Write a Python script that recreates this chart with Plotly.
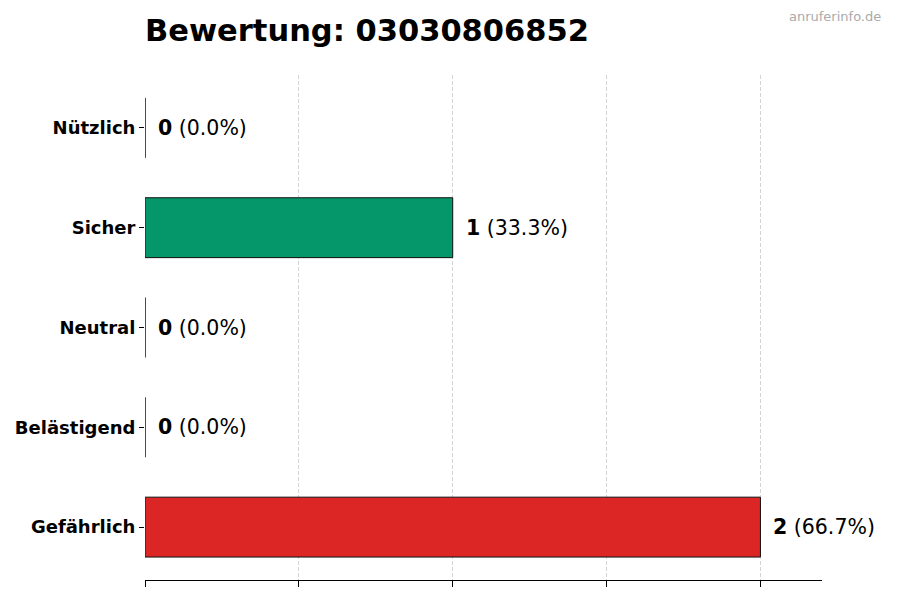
import plotly.graph_objects as go

categories = ["Gefährlich", "Belästigend", "Neutral", "Sicher", "Nützlich"]
counts = [2, 0, 0, 1, 0]
percents = [66.7, 0.0, 0.0, 33.3, 0.0]
colors = ["#dc2626", "#f97316", "#9ca3af", "#059669", "#10b981"]
x_ticks = [0, 0.5, 1, 1.5, 2]
title_text = "Bewertung: 03030806852"
watermark = "anruferinfo.de"

L, R, T, B = 145, 78, 75, 20
W, H = 900, 600

fig = go.Figure()
fig.add_trace(go.Bar(
    x=counts,
    y=list(range(len(categories))),
    orientation="h",
    width=0.6,
    marker=dict(color=colors, line=dict(color="#111111", width=1)),
    hoverinfo="skip",
))

for i, (c, p) in enumerate(zip(counts, percents)):
    fig.add_annotation(
        x=c, y=i, xref="x", yref="y",
        text=f"<b>{c}</b> ({p:.1f}%)",
        showarrow=False, xanchor="left", yanchor="middle", xshift=11,
        font=dict(family="DejaVu Sans", size=20.5, color="#000000"),
    )

fig.add_annotation(
    xref="paper", yref="paper",
    x=(883 - L) / (W - L - R), y=1 + (T - 17) / (H - T - B),
    xanchor="right", yanchor="middle",
    text=watermark, showarrow=False,
    font=dict(family="DejaVu Sans", size=13, color="#aaaaaa"),
)

fig.update_layout(
    width=W, height=H,
    margin=dict(l=L, r=R, t=T, b=B),
    plot_bgcolor="white", paper_bgcolor="white",
    showlegend=False,
    title=dict(text=f"<b>{title_text}</b>", x=L / W, xanchor="left", y=1 - 30 / H, yanchor="middle",
               font=dict(family="DejaVu Sans", size=30.5, color="#000000")),
    xaxis=dict(range=[0, 2.2], tickvals=x_ticks, showticklabels=False,
               showgrid=True, gridcolor="rgba(160,160,160,0.45)", griddash="4px,2px", gridwidth=1,
               showline=True, linecolor="#000000", linewidth=1,
               ticks="outside", ticklen=6, tickcolor="#000000", zeroline=False,
               layer="above traces"),
    yaxis=dict(range=[-0.53, 4.53], tickvals=list(range(len(categories))), ticktext=categories,
               showgrid=False, zeroline=False, showline=False,
               ticks="outside", ticklen=5, tickcolor="#000000",
               tickfont=dict(family="DejaVu Sans", size=18, color="#000000", weight="bold")),
)

fig.write_html("out.html", config={"displayModeBar": False},
               post_script="document.body.style.margin='0px';")
